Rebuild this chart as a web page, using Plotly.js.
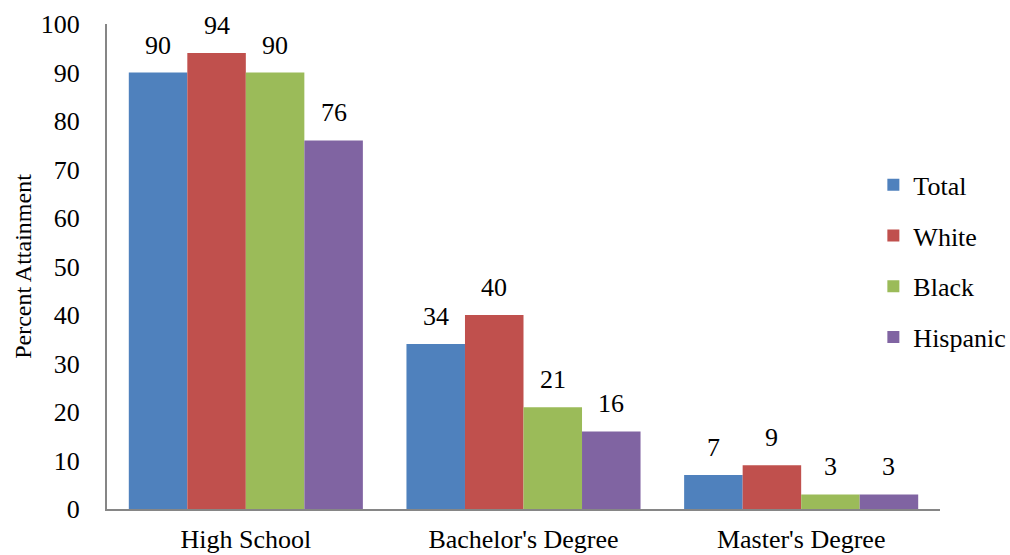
<!DOCTYPE html>
<html><head><meta charset="utf-8">
<script src="https://cdn.plot.ly/plotly-3.0.1.min.js"></script>
<style>body{margin:0;background:#fff}#chart{width:1010px;height:555px}</style>
</head><body><div id="chart"></div>
<script>
const categories = ["High School", "Bachelor's Degree", "Master's Degree"];
const seriesNames = ["Total", "White", "Black", "Hispanic"];
const total = [90, 34, 7];
const white = [94, 40, 9];
const black = [90, 21, 3];
const hispanic = [76, 16, 3];
const yTicks = [0, 10, 20, 30, 40, 50, 60, 70, 80, 90, 100];

const colors = ["#4F81BD", "#C0504D", "#9BBB59", "#8064A2"];
const values = [total, white, black, hispanic];
const font = "Liberation Serif";
const fs = 26;

const margin = {l: 107, r: 70, t: 24, b: 46, autoexpand: false};
const bargap = 0.157;
const plotW = 1010 - margin.l - margin.r;
const barPx = plotW / categories.length * (1 - bargap) / values.length;

const traces = values.map((v, i) => ({
  type: "bar",
  name: seriesNames[i],
  x: categories,
  y: v,
  marker: {color: colors[i], line: {width: 0}},
  legendgroup: "g" + i
}));

const annotations = [];
values.forEach((v, i) => {
  v.forEach((val, j) => {
    annotations.push({
      x: categories[j], y: val, xref: "x", yref: "y",
      text: String(val), showarrow: false,
      xanchor: "center", yanchor: "bottom",
      xshift: (i - (values.length - 1) / 2) * barPx,
      yshift: 11,
      font: {family: font, size: fs, color: "#000"}
    });
  });
});

const layout = {
  width: 1010, height: 555,
  margin: margin,
  paper_bgcolor: "#fff", plot_bgcolor: "#fff",
  barmode: "group",
  bargap: bargap, bargroupgap: 0,
  font: {family: font, size: fs, color: "#000"},
  annotations: annotations,
  xaxis: {
    showline: true, linecolor: "#868686", linewidth: 2,
    ticks: "", showgrid: false, zeroline: false,
    tickfont: {family: font, size: fs, color: "#000"},
    ticklabelstandoff: 6
  },
  yaxis: {
    range: [0, 100], tickvals: yTicks, ticktext: yTicks.map(String),
    showline: true, linecolor: "#868686", linewidth: 2,
    ticks: "", showgrid: false, zeroline: false,
    tickfont: {family: font, size: fs, color: "#000"},
    ticklabelstandoff: 20,
    title: {text: "Percent Attainment", font: {family: font, size: 24, color: "#000"}, standoff: 2}
  },
  legend: {
    x: 0.92, y: 0.717, xanchor: "left", yanchor: "top",
    bgcolor: "rgba(0,0,0,0)",
    font: {family: font, size: fs, color: "#000"},
    tracegroupgap: 14, traceorder: "grouped"
  },
  showlegend: true
};

Plotly.newPlot("chart", traces, layout, {displayModeBar: false, staticPlot: true});
</script></body></html>
